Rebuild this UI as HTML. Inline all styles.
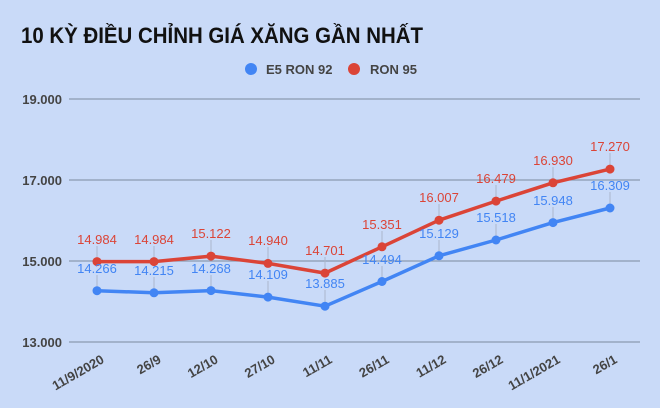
<!DOCTYPE html>
<html><head><meta charset="utf-8"><style>
body{margin:0;background:#c9daf8;}
svg{display:block;font-family:"Liberation Sans",Arial,sans-serif;}
</style></head><body>
<svg width="660" height="408" viewBox="0 0 660 408">
<rect width="660" height="408" fill="#c9daf8"/>
<text x="21" y="43" font-size="22" font-weight="bold" fill="#111" textLength="402" lengthAdjust="spacingAndGlyphs">10 KỲ ĐIỀU CHỈNH GIÁ XĂNG GẦN NHẤT</text>
<circle cx="251" cy="69" r="6" fill="#4285f4"/>
<text x="266" y="74" font-size="13" font-weight="bold" fill="#444">E5 RON 92</text>
<circle cx="354" cy="69" r="6" fill="#db4437"/>
<text x="370" y="74" font-size="13" font-weight="bold" fill="#444">RON 95</text>
<g stroke="#8c9ab0" stroke-width="1.3">
<line x1="69" y1="99" x2="640" y2="99"/><line x1="69" y1="180" x2="640" y2="180"/>
<line x1="69" y1="261" x2="640" y2="261"/><line x1="69" y1="342" x2="640" y2="342"/>
</g>
<g font-size="13" font-weight="bold" fill="#444" text-anchor="end">
<text x="62" y="104">19.000</text><text x="62" y="185">17.000</text>
<text x="62" y="266">15.000</text><text x="62" y="347">13.000</text>
</g>
<g stroke="#aab6cc" stroke-width="1">
<line x1="97" y1="275" x2="97" y2="290.7"/><line x1="154" y1="277" x2="154" y2="292.8"/>
<line x1="211" y1="275" x2="211" y2="290.6"/><line x1="268" y1="281" x2="268" y2="297.1"/>
<line x1="325" y1="290" x2="325" y2="306.2"/><line x1="382" y1="266" x2="382" y2="281.5"/>
<line x1="439" y1="240" x2="439" y2="255.8"/><line x1="496" y1="224" x2="496" y2="240"/>
<line x1="553" y1="207" x2="553" y2="222.6"/><line x1="610" y1="192" x2="610" y2="208"/>
<line x1="97" y1="246" x2="97" y2="261.6"/><line x1="154" y1="246" x2="154" y2="261.6"/>
<line x1="211" y1="240" x2="211" y2="256.1"/><line x1="268" y1="247" x2="268" y2="263.4"/>
<line x1="325" y1="257" x2="325" y2="273.1"/><line x1="382" y1="231" x2="382" y2="246.8"/>
<line x1="439" y1="204" x2="439" y2="220.2"/><line x1="496" y1="185" x2="496" y2="201.1"/>
<line x1="553" y1="167" x2="553" y2="182.8"/><line x1="610" y1="153" x2="610" y2="169.1"/>
</g>
<polyline points="97,290.7 154,292.8 211,290.6 268,297.1 325,306.2 382,281.5 439,255.8 496,240 553,222.6 610,208" fill="none" stroke="#4285f4" stroke-width="3.5" stroke-linejoin="round"/>
<g fill="#4285f4">
<circle cx="97" cy="290.7" r="4.5"/><circle cx="154" cy="292.8" r="4.5"/><circle cx="211" cy="290.6" r="4.5"/><circle cx="268" cy="297.1" r="4.5"/><circle cx="325" cy="306.2" r="4.5"/><circle cx="382" cy="281.5" r="4.5"/><circle cx="439" cy="255.8" r="4.5"/><circle cx="496" cy="240" r="4.5"/><circle cx="553" cy="222.6" r="4.5"/><circle cx="610" cy="208" r="4.5"/>
</g>
<polyline points="97,261.6 154,261.6 211,256.1 268,263.4 325,273.1 382,246.8 439,220.2 496,201.1 553,182.8 610,169.1" fill="none" stroke="#db4437" stroke-width="3.5" stroke-linejoin="round"/>
<g fill="#db4437">
<circle cx="97" cy="261.6" r="4.5"/><circle cx="154" cy="261.6" r="4.5"/><circle cx="211" cy="256.1" r="4.5"/><circle cx="268" cy="263.4" r="4.5"/><circle cx="325" cy="273.1" r="4.5"/><circle cx="382" cy="246.8" r="4.5"/><circle cx="439" cy="220.2" r="4.5"/><circle cx="496" cy="201.1" r="4.5"/><circle cx="553" cy="182.8" r="4.5"/><circle cx="610" cy="169.1" r="4.5"/>
</g>
<g font-size="13" fill="#4285f4" text-anchor="middle">
<text x="97" y="273">14.266</text><text x="154" y="275">14.215</text><text x="211" y="273">14.268</text><text x="268" y="279">14.109</text><text x="325" y="288">13.885</text><text x="382" y="264">14.494</text><text x="439" y="238">15.129</text><text x="496" y="222">15.518</text><text x="553" y="205">15.948</text><text x="610" y="190">16.309</text>
</g>
<g font-size="13" fill="#db4437" text-anchor="middle">
<text x="97" y="244">14.984</text><text x="154" y="244">14.984</text><text x="211" y="238">15.122</text><text x="268" y="245">14.940</text><text x="325" y="255">14.701</text><text x="382" y="229">15.351</text><text x="439" y="202">16.007</text><text x="496" y="183">16.479</text><text x="553" y="165">16.930</text><text x="610" y="151">17.270</text>
</g>
<g font-size="13" font-weight="bold" fill="#444" text-anchor="end">
<text transform="translate(105,362) rotate(-30)">11/9/2020</text>
<text transform="translate(162,362) rotate(-30)">26/9</text>
<text transform="translate(219,362) rotate(-30)">12/10</text>
<text transform="translate(276,362) rotate(-30)">27/10</text>
<text transform="translate(333,362) rotate(-30)">11/11</text>
<text transform="translate(390,362) rotate(-30)">26/11</text>
<text transform="translate(447,362) rotate(-30)">11/12</text>
<text transform="translate(504,362) rotate(-30)">26/12</text>
<text transform="translate(561,362) rotate(-30)">11/1/2021</text>
<text transform="translate(618,362) rotate(-30)">26/1</text>
</g>
</svg>
</body></html>
